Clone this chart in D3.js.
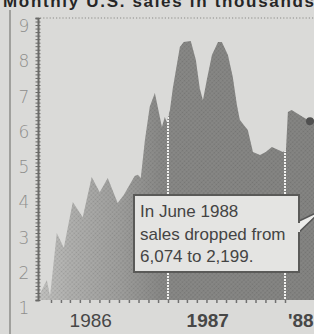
<!DOCTYPE html>
<html>
<head>
<meta charset="utf-8">
<script src="https://cdn.jsdelivr.net/npm/d3@7/dist/d3.min.js"></script>
<style>
  html, body { margin: 0; padding: 0; background: #dadad8; }
  svg { display: block; }
</style>
</head>
<body>
<svg></svg>
<script>
let svgWidth = 314;
let svgHeight = 334;

// monthly U.S. sales, thousands
let saleDates = [
  "1985-11-21", "1985-12-19", "1985-12-29", "1986-01-19", "1986-02-10", "1986-03-10",
  "1986-04-10", "1986-05-08", "1986-06-02", "1986-06-27", "1986-07-28", "1986-08-16",
  "1986-09-19", "1986-09-29", "1986-10-08", "1986-10-21", "1986-11-05", "1986-11-21",
  "1986-12-13", "1986-12-22", "1986-12-28", "1987-01-07", "1987-01-16", "1987-02-07",
  "1987-02-19", "1987-03-13", "1987-03-29", "1987-04-10", "1987-04-20", "1987-05-02",
  "1987-05-18", "1987-06-06", "1987-06-18", "1987-07-07", "1987-07-22", "1987-08-04",
  "1987-08-13", "1987-08-26", "1987-09-07", "1987-09-23", "1987-10-15", "1987-11-02",
  "1987-11-21", "1987-12-10", "1987-12-25", "1988-01-04", "1988-01-10", "1988-01-22",
  "1988-02-07", "1988-02-26", "1988-03-19", "1988-04-01", "1988-04-20", "1988-05-10"
];
let saleValues = [
  1.06, 1.57, 1.11, 2.90, 2.48, 3.78,
  3.35, 4.49, 4.06, 4.46, 3.75, 3.98,
  4.52, 4.55, 4.46, 5.54, 6.48, 6.87,
  5.91, 6.19, 6.05, 6.39, 7.01, 8.18,
  8.32, 8.35, 7.81, 7.01, 6.67, 7.24,
  7.95, 8.32, 8.32, 7.95, 7.33, 6.53,
  6.11, 5.96, 5.82, 5.20, 5.11, 5.20,
  5.34, 5.26, 5.20, 5.25, 6.33, 6.39,
  6.30, 6.19, 6.074, 6.13, 6.07, 2.199
];
let markedDate = "1988-03-19";
let markedValue = 6.074;

let yTicks = [1, 2, 3, 4, 5, 6, 7, 8, 9];
let yearLines = ["1987-01-01", "1988-01-01"];
let xLabels = ["1986", "1987", "'88"];
let xLabelDates = ["1986-05-05", "1987-05-05", "1988-02-19"];
let xLabelWeights = ["normal", "bold", "bold"];

let noteLines = ["In June 1988", "sales dropped from", "6,074 to 2,199."];
let title = "Monthly U.S. sales in thousands";

let parse = d3.timeParse("%Y-%m-%d");
let sales = saleDates.map((d, i) => ({date: parse(d), value: saleValues[i]}));

var svg = d3.select("svg")
  .attr("width", svgWidth)
  .attr("height", svgHeight);

let xScale = d3.scaleTime()
  .domain([parse("1986-01-01"), parse("1988-01-01")])
  .range([51, 285]);
let yScale = d3.scaleLinear()
  .domain([1, 9])
  .range([300, 18]);

let defs = svg.append("defs");

// halftone look for the area
let grad = defs.append("linearGradient")
  .attr("id", "fillGrad")
  .attr("gradientUnits", "userSpaceOnUse")
  .attr("x1", 37).attr("x2", 314).attr("y1", 0).attr("y2", 0);
[[0, "#c4c4c2"], [0.12, "#b2b2b0"], [0.3, "#a0a09e"], [0.45, "#8a8a88"], [1, "#868684"]]
  .forEach(s => grad.append("stop").attr("offset", s[0]).attr("stop-color", s[1]));

let dots = defs.append("pattern")
  .attr("id", "dots")
  .attr("width", 3).attr("height", 3)
  .attr("patternUnits", "userSpaceOnUse")
  .attr("patternTransform", "rotate(45)");
dots.append("circle")
  .attr("cx", 1.5).attr("cy", 1.5).attr("r", 0.9)
  .attr("fill", "#000").attr("opacity", 0.14);

defs.append("clipPath").attr("id", "plotClip")
  .append("rect")
  .attr("x", 38).attr("y", 0)
  .attr("width", svgWidth - 38).attr("height", 301);

let area = d3.area()
  .x(d => xScale(d.date))
  .y0(yScale(1))
  .y1(d => yScale(d.value))
  .curve(d3.curveLinear);

defs.append("clipPath").attr("id", "areaClip")
  .append("path")
  .datum(sales)
  .attr("d", area);

// title (cut off at the top, as in the clipping)
svg.append("text")
  .text(title)
  .attr("x", 3)
  .attr("y", 7)
  .attr("font-family", "Liberation Sans, Arial, sans-serif")
  .attr("font-weight", "bold")
  .attr("font-size", 17)
  .attr("textLength", 311)
  .attr("fill", "#262626");

// left border line
svg.append("line")
  .attr("x1", 10).attr("x2", 10)
  .attr("y1", 10).attr("y2", svgHeight)
  .attr("stroke", "#8c8c8a")
  .attr("stroke-width", 1.5);

// dotted top gridline
svg.append("line")
  .attr("x1", 40).attr("x2", svgWidth)
  .attr("y1", yScale(9)).attr("y2", yScale(9))
  .attr("stroke", "#8a8a88")
  .attr("stroke-width", 1.2)
  .attr("stroke-dasharray", "1.2,2");

let plot = svg.append("g").attr("clip-path", "url(#plotClip)");

plot.append("path")
  .datum(sales)
  .attr("d", area)
  .attr("fill", "url(#fillGrad)");
plot.append("path")
  .datum(sales)
  .attr("d", area)
  .attr("fill", "url(#dots)");

// white year separators, only inside the area
plot.append("g")
  .attr("clip-path", "url(#areaClip)")
  .selectAll("line")
  .data(yearLines)
  .enter()
  .append("line")
    .attr("x1", d => xScale(parse(d)))
    .attr("x2", d => xScale(parse(d)))
    .attr("y1", yScale(9))
    .attr("y2", yScale(1))
    .attr("stroke", "#f2f2f0")
    .attr("stroke-width", 2)
    .attr("stroke-dasharray", "2,1");

// marker dot before the drop
plot.append("circle")
  .attr("cx", xScale(parse(markedDate)))
  .attr("cy", yScale(markedValue))
  .attr("r", 4)
  .attr("fill", "#505050");

// y axis with fine ticks
let yAxis = d3.axisLeft(yScale)
  .tickValues(d3.range(10, 91).map(d => d / 10))
  .tickSize(2.5)
  .tickFormat("");
let yAxisG = svg.append("g")
  .attr("transform", "translate(38,0)")
  .call(yAxis);
yAxisG.select(".domain").attr("stroke", "#6a6a68").attr("stroke-width", 2);
yAxisG.selectAll(".tick line").attr("stroke", "#6a6a68").attr("x2", 2.5).attr("x1", -2.5);

svg.append("g")
  .selectAll("text")
  .data(yTicks)
  .enter()
  .append("text")
    .text(d => d)
    .attr("x", 24)
    .attr("y", d => yScale(d) + 14)
    .attr("text-anchor", "middle")
    .attr("font-family", "DejaVu Sans, sans-serif")
    .attr("font-weight", 200)
    .attr("font-size", 17)
    .attr("fill", "#8e8e8c");

// bottom month ticks
let xAxis = d3.axisBottom(xScale)
  .ticks(d3.timeMonth.every(1))
  .tickSize(3)
  .tickFormat("");
let xAxisG = svg.append("g")
  .attr("transform", `translate(0, ${yScale(1)})`)
  .call(xAxis);
xAxisG.select(".domain").remove();
xAxisG.selectAll(".tick line").attr("stroke", "#707070").attr("stroke-width", 1.5);

svg.append("g")
  .selectAll("text")
  .data(xLabels)
  .enter()
  .append("text")
    .text(d => d)
    .attr("x", (d, i) => xScale(parse(xLabelDates[i])))
    .attr("y", 327)
    .attr("text-anchor", "middle")
    .attr("font-family", "Liberation Sans, Arial, sans-serif")
    .attr("font-weight", (d, i) => xLabelWeights[i])
    .attr("font-size", 19)
    .attr("fill", "#474747");

// annotation box
let note = svg.append("g");
note.append("polygon")
  .attr("points", "297,222 297,234 322,210")
  .attr("fill", "#ececea")
  .attr("stroke", "#555")
  .attr("stroke-width", 1.5);
note.append("rect")
  .attr("x", 134).attr("y", 195)
  .attr("width", 165).attr("height", 77)
  .attr("fill", "#e4e4e2")
  .attr("stroke", "#5a5a58")
  .attr("stroke-width", 2);
note.append("rect")
  .attr("x", 296).attr("y", 223)
  .attr("width", 4).attr("height", 9)
  .attr("fill", "#e4e4e2");
note.selectAll("text.note")
  .data(noteLines)
  .enter()
  .append("text")
    .attr("class", "note")
    .text(d => d)
    .attr("x", 140)
    .attr("y", (d, i) => 217 + i * 22.5)
    .attr("font-family", "Liberation Sans, Arial, sans-serif")
    .attr("font-size", 17)
    .attr("fill", "#444");
</script>
</body>
</html>
